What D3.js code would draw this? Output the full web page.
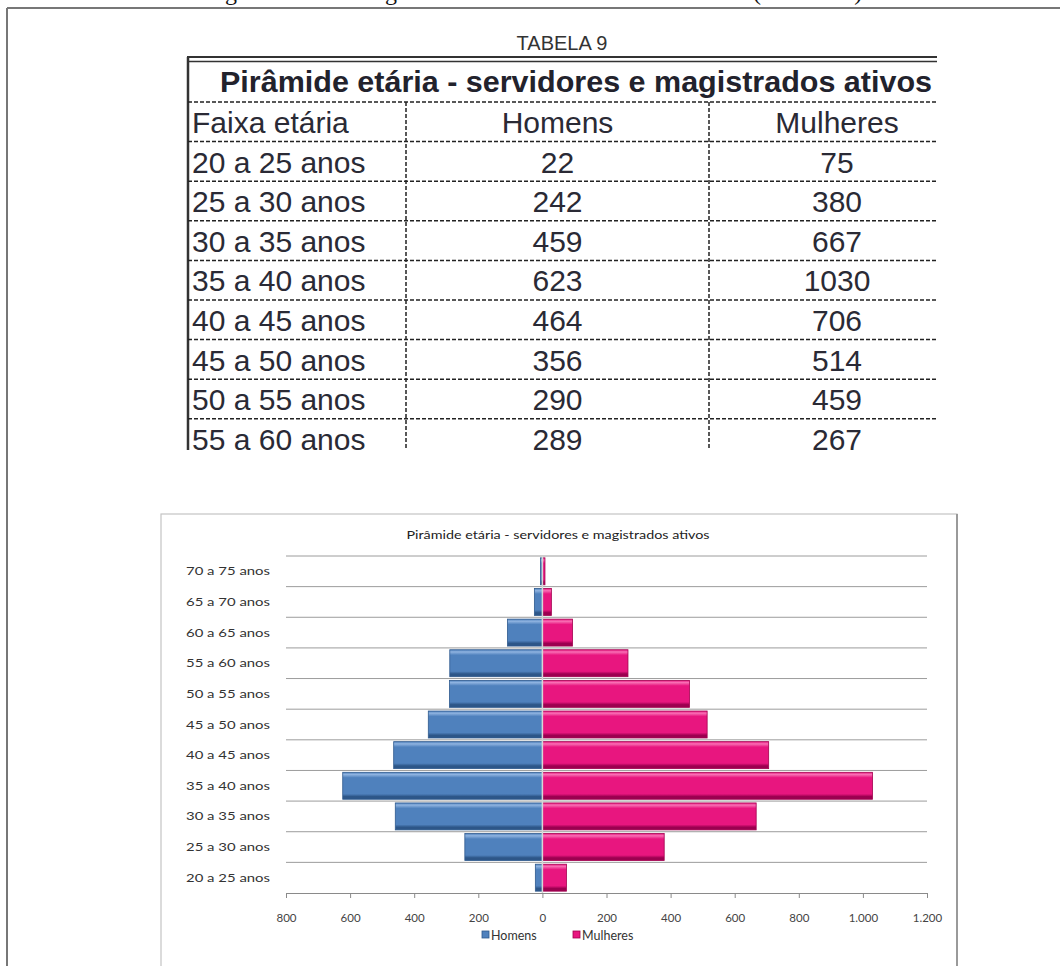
<!DOCTYPE html>
<html>
<head>
<meta charset="utf-8">
<script src="https://cdn.jsdelivr.net/npm/d3@7"></script>
<style>
  body { margin: 0; background: #fff; }
  svg { display: block; }
</style>
</head>
<body>
<div id="page"></div>
<script>
"use strict";

// faixas etárias, de baixo para cima
var categories = ["20 a 25 anos", "25 a 30 anos", "30 a 35 anos", "35 a 40 anos",
                  "40 a 45 anos", "45 a 50 anos", "50 a 55 anos", "55 a 60 anos",
                  "60 a 65 anos", "65 a 70 anos", "70 a 75 anos"];
var homens   = [22, 242, 459, 623, 464, 356, 290, 289, 109, 25, 6];
var mulheres = [75, 380, 667, 1030, 706, 514, 459, 267, 94, 28, 8];
var xTicks = [-800, -600, -400, -200, 0, 200, 400, 600, 800, 1000, 1200];
var tableHeader = ["Faixa etária", "Homens", "Mulheres"];
var tableRows = 8; // a tabela recortada mostra só as primeiras 8 faixas
var seriesNames = ["Homens", "Mulheres"];

var W = 1060, H = 966;
var svg = d3.select("#page").append("svg").attr("width", W).attr("height", H);
var defs = svg.append("defs");

// legenda da figura, cortada no alto da página (só as descendentes aparecem)
var capFont = "24px 'Liberation Serif', serif";
[["Figura 9 – Pirâmide etária", 203, "end"],
 ["segundo a idade e o", 205, "start"],
 ["gênero dos servidores", 385, "start"],
 ["(dez. 2010)", 753, "start"]].forEach(function(c) {
  svg.append("text").attr("x", c[1]).attr("y", 0).attr("text-anchor", c[2])
    .style("font", capFont).attr("fill", "#111").text(c[0]);
});

// moldura da página
svg.append("line").attr("x1", 7).attr("x2", W).attr("y1", 8).attr("y2", 8)
  .attr("stroke", "#777").attr("stroke-width", 2);
svg.append("line").attr("x1", 7).attr("x2", 7).attr("y1", 8).attr("y2", H)
  .attr("stroke", "#777").attr("stroke-width", 2);

// ---------- Tabela ----------
var tbl = {left: 188, right: 937, col1: 406, col2: 709, col3: 965, bottom: 450, top: 100, step: 39.6};
defs.append("clipPath").attr("id", "tclip").append("rect")
  .attr("x", 0).attr("y", 0).attr("width", tbl.right).attr("height", tbl.bottom);
var tg = svg.append("g").attr("clip-path", "url(#tclip)");
var textFill = "#2a2a35";
var arial = "'Liberation Sans', Arial, sans-serif";

svg.append("text").attr("x", 562).attr("y", 50).attr("text-anchor", "middle")
  .style("font", "20px " + arial).attr("fill", "#333").text("TABELA 9");

tg.append("line").attr("x1", tbl.left - 1).attr("x2", tbl.right).attr("y1", 57).attr("y2", 57)
  .attr("stroke", "#333").attr("stroke-width", 2.2);
tg.append("line").attr("x1", tbl.left - 1).attr("x2", tbl.right).attr("y1", 61.5).attr("y2", 61.5)
  .attr("stroke", "#333").attr("stroke-width", 1.6);
tg.append("line").attr("x1", tbl.left).attr("x2", tbl.left).attr("y1", 57).attr("y2", tbl.bottom)
  .attr("stroke", "#333").attr("stroke-width", 2.5);

tg.append("text").attr("x", 576).attr("y", 92).attr("text-anchor", "middle")
  .attr("textLength", 712).attr("lengthAdjust", "spacingAndGlyphs")
  .style("font", "bold 29px " + arial).attr("fill", "#22222c")
  .text("Pirâmide etária - servidores e magistrados ativos");

var rowIdx = d3.range(tableRows + 1);
// linhas tracejadas horizontais
tg.selectAll(".hdash").data(rowIdx).join("line")
  .attr("x1", tbl.left).attr("x2", tbl.right)
  .attr("y1", function(i) { return tbl.top + 2 + i * tbl.step; })
  .attr("y2", function(i) { return tbl.top + 2 + i * tbl.step; })
  .attr("stroke", "#222").attr("stroke-width", 1.5).attr("stroke-dasharray", "4,2");
// linhas tracejadas verticais
tg.selectAll(".vdash").data([tbl.col1, tbl.col2]).join("line")
  .attr("x1", function(d) { return d; }).attr("x2", function(d) { return d; })
  .attr("y1", tbl.top + 2).attr("y2", tbl.bottom)
  .attr("stroke", "#222").attr("stroke-width", 1.5).attr("stroke-dasharray", "4,2");

var cellFont = "30px " + arial;
var c2 = (tbl.col1 + tbl.col2) / 2, c3 = (tbl.col2 + tbl.col3) / 2;
var rowsData = [tableHeader].concat(d3.range(tableRows).map(function(i) {
  return [categories[i], String(homens[i]), String(mulheres[i])];
}));
rowsData.forEach(function(r, i) {
  var by = tbl.top + 33 + i * tbl.step;
  tg.append("text").attr("x", tbl.left + 4).attr("y", by).style("font", cellFont)
    .attr("fill", textFill).text(r[0]);
  tg.append("text").attr("x", c2).attr("y", by).attr("text-anchor", "middle").style("font", cellFont)
    .attr("fill", textFill).text(r[1]);
  tg.append("text").attr("x", c3).attr("y", by).attr("text-anchor", "middle").style("font", cellFont)
    .attr("fill", textFill).text(r[2]);
});

// ---------- Gráfico ----------
var chartFont = "Lato, 'Open Sans', sans-serif";
svg.append("rect").attr("x", 161).attr("y", 514).attr("width", 796).attr("height", 470)
  .attr("fill", "#fff").attr("stroke", "#c4c4c4").attr("stroke-width", 1.2);
svg.append("line").attr("x1", 957).attr("x2", 957).attr("y1", 514).attr("y2", H)
  .attr("stroke", "#9a9a9a").attr("stroke-width", 2);

svg.append("text").attr("x", 558).attr("y", 539).attr("text-anchor", "middle")
  .attr("textLength", 303).attr("lengthAdjust", "spacingAndGlyphs")
  .style("font", "11.5px " + chartFont).attr("fill", "#222")
  .text("Pirâmide etária - servidores e magistrados ativos");

var plot = {left: 286, right: 927, top: 556, bottom: 893};
var x = d3.scaleLinear().domain([-800, 1200]).range([plot.left, plot.right]);
var y = d3.scaleBand().domain(categories.slice().reverse())
  .range([plot.top, plot.bottom]).paddingInner(0.12).paddingOuter(0.06);
var step = y.step();

// linhas de grade entre categorias
svg.append("g").selectAll("line").data(d3.range(categories.length)).join("line")
  .attr("x1", plot.left).attr("x2", plot.right)
  .attr("y1", function(i) { return plot.top + i * step; })
  .attr("y2", function(i) { return plot.top + i * step; })
  .attr("stroke", "#9c9c9c").attr("stroke-width", 1);

// gradientes com efeito de bisel
function bevel(id, light, main, dark) {
  var g = defs.append("linearGradient").attr("id", id)
    .attr("x1", 0).attr("y1", 0).attr("x2", 0).attr("y2", 1);
  [[0, main], [0.08, light], [0.2, main], [0.8, main], [0.9, dark], [1, dark]].forEach(function(s) {
    g.append("stop").attr("offset", s[0]).attr("stop-color", s[1]);
  });
}
bevel("gBlue", "#8fb3e0", "#4f81bd", "#2d5688");
bevel("gPink", "#f86fb4", "#e8167f", "#9c0050");

var loc = d3.formatLocale({decimal: ",", thousands: ".", grouping: [3], currency: ["R$", ""]});
var fmt = loc.format(",d");

var bars = svg.append("g");
bars.selectAll(".h").data(categories).join("rect")
  .attr("x", function(d, i) { return x(-homens[i]); })
  .attr("y", function(d) { return y(d); })
  .attr("width", function(d, i) { return x(0) - x(-homens[i]); })
  .attr("height", y.bandwidth())
  .attr("fill", "url(#gBlue)").attr("stroke", "#2f5a8e").attr("stroke-width", 0.8);
bars.selectAll(".m").data(categories).join("rect")
  .attr("x", x(0))
  .attr("y", function(d) { return y(d); })
  .attr("width", function(d, i) { return x(mulheres[i]) - x(0); })
  .attr("height", y.bandwidth())
  .attr("fill", "url(#gPink)").attr("stroke", "#a3004f").attr("stroke-width", 0.8);

// eixo vertical no zero
svg.append("line").attr("x1", x(0)).attr("x2", x(0)).attr("y1", plot.top).attr("y2", plot.bottom)
  .attr("stroke", "#d6d6d6").attr("stroke-width", 1.5);

// rótulos das categorias
svg.append("g").selectAll("text").data(categories).join("text")
  .attr("x", 270).attr("y", function(d) { return y(d) + y.bandwidth() / 2 + 4; })
  .attr("text-anchor", "end")
  .attr("textLength", 84).attr("lengthAdjust", "spacingAndGlyphs")
  .style("font", "12px " + chartFont).attr("fill", "#333")
  .text(function(d) { return d; });

// eixo x
var xAxis = d3.axisBottom(x).tickValues(xTicks).tickSize(5).tickSizeOuter(0)
  .tickFormat(function(d) { return fmt(Math.abs(d)); });
var ax = svg.append("g").attr("transform", "translate(0," + plot.bottom + ")").call(xAxis);
ax.select(".domain").attr("stroke", "#8a8a8a");
ax.selectAll(".tick line").attr("stroke", "#8a8a8a");
ax.selectAll(".tick text").attr("dy", 0).attr("y", 29)
  .style("font", "11.5px " + chartFont).attr("fill", "#444");

// legenda
var legend = svg.append("g");
var legendItems = [
  {name: seriesNames[0], fill: "#4f81bd", stroke: "#2f5a8e", x: 482},
  {name: seriesNames[1], fill: "#e8167f", stroke: "#a3004f", x: 573}
];
legendItems.forEach(function(it) {
  legend.append("rect").attr("x", it.x).attr("y", 931).attr("width", 7).attr("height", 7)
    .attr("fill", it.fill).attr("stroke", it.stroke).attr("stroke-width", 0.8);
  legend.append("text").attr("x", it.x + 9).attr("y", 940)
    .style("font", "12.5px " + chartFont).attr("fill", "#333").text(it.name);
});
</script>
</body>
</html>
